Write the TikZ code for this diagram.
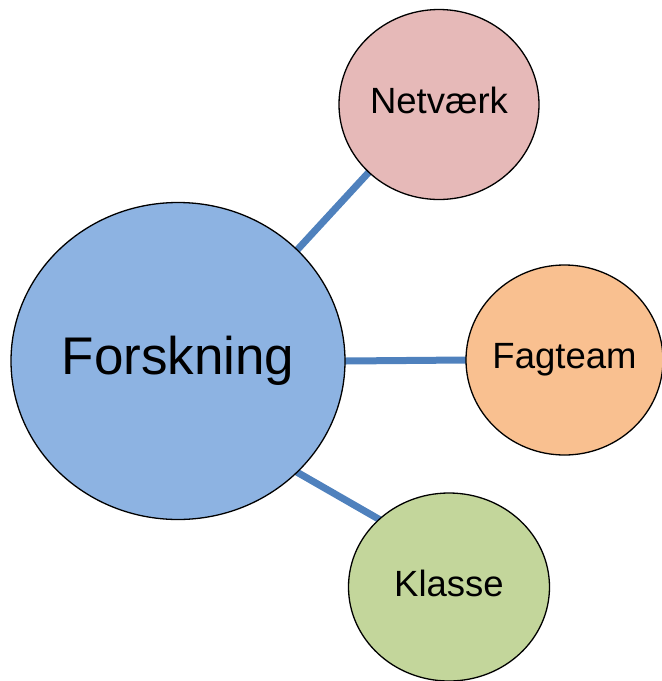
\documentclass[tikz,border=0pt]{standalone}
\usepackage{fontspec}
\setmainfont{Liberation Sans}
\usetikzlibrary{shapes.geometric}
\definecolor{linkblue}{HTML}{4F81BD}
\definecolor{bigblue}{HTML}{8DB3E2}
\definecolor{rosefill}{HTML}{E6B9B8}
\definecolor{orangefill}{HTML}{F9C090}
\definecolor{greenfill}{HTML}{C3D69B}
\pgfdeclarelayer{background}
\pgfsetlayers{background,main}
\begin{document}
\begin{tikzpicture}[x=1pt,y=-1pt,
  bubble/.style={ellipse, draw=black, line width=1.3pt, inner sep=0pt, text=black},
  smalltext/.style={font=\fontsize{36.5}{42}\selectfont},
  link/.style={draw=linkblue, line width=7pt, shorten <=-4pt, shorten >=-4pt}]
\useasboundingbox (0,0) rectangle (662,681);
\node[bubble, fill=bigblue, minimum width=334pt, minimum height=317pt,
      font=\fontsize{53}{60}\selectfont] (fo) at (178,361)
      {\makebox[0pt]{Forskning}\vphantom{Ag}};
\node[bubble, fill=rosefill, minimum width=200pt, minimum height=190pt, smalltext]
      (ne) at (439,104.5) {\makebox[0pt]{Netværk}\vphantom{Ag}};
\node[bubble, fill=orangefill, minimum width=197pt, minimum height=190pt, smalltext]
      (fa) at (564.5,360) {\makebox[0pt]{Fagteam}\vphantom{Ag}};
\node[bubble, fill=greenfill, minimum width=201pt, minimum height=188pt, smalltext]
      (kl) at (449,587) {\makebox[0pt]{Klasse}\vphantom{Ag}};
\begin{pgfonlayer}{background}
\draw[link] (fo.43.9) -- (ne.224.4);
\draw[link] (fo.0.3) -- (fa.180.3);
\draw[link] (fo.-43.2) -- (kl.136.9);
\end{pgfonlayer}
\end{tikzpicture}
\end{document}
